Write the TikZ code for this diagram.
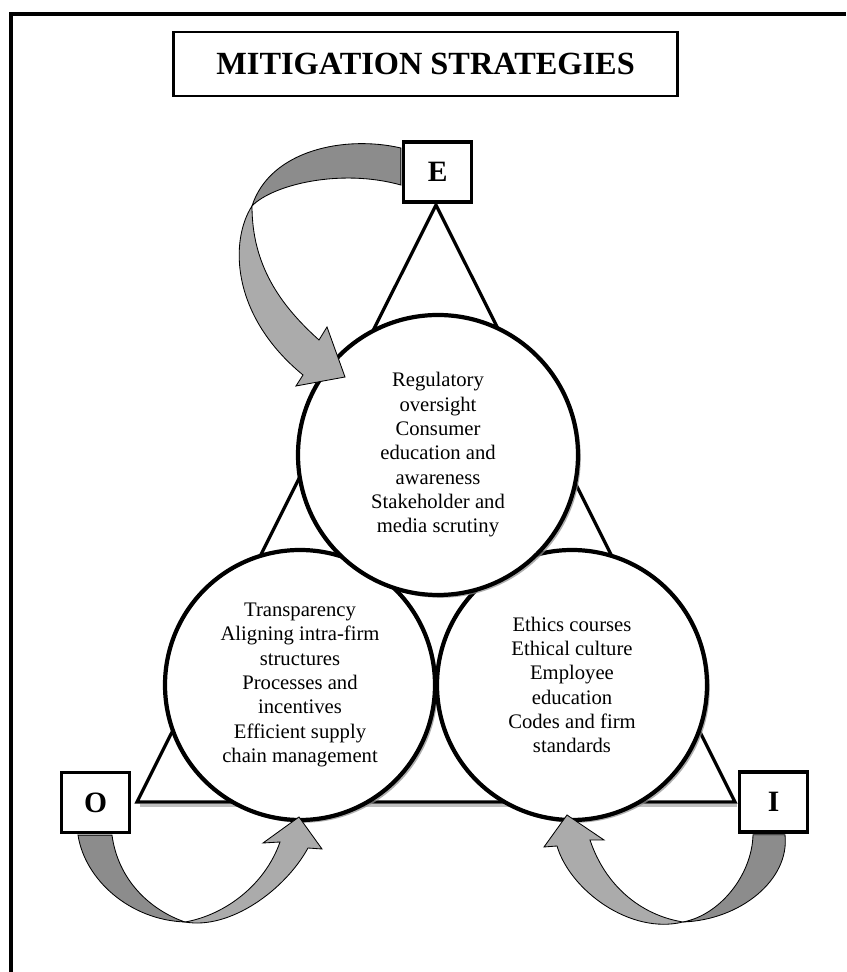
\documentclass[tikz,border=0pt]{standalone}
\usepackage{fontspec}
\setmainfont{Liberation Serif}
\usetikzlibrary{shadows,calc}

\definecolor{ribbondark}{gray}{0.55}
\definecolor{ribbonlight}{gray}{0.67}

\begin{document}
\begin{tikzpicture}[
  banner/.style={draw, line width=2.1pt, minimum width=12.6cm, minimum height=1.6cm,
                 font=\fontsize{23}{27}\selectfont\bfseries},
  lbox/.style={draw, line width=2.2pt, fill=white, minimum width=1.7cm, minimum height=1.5cm,
               inner sep=0pt, font=\fontsize{21}{25}\selectfont\bfseries},
  bubble/.style={circle, draw, line width=3pt, fill=white, inner sep=0pt, align=center,
                 font=\fontsize{14.7}{17.3}\selectfont,
                 drop shadow={shadow xshift=0.07cm, shadow yshift=-0.07cm, fill=black!45, opacity=0.7}},
  tri/.style={line width=2.3pt, line join=miter},
  edgeline/.style={line width=2.7pt},
  ribbonback/.style={draw=black, line width=0.6pt, fill=ribbondark},
  ribbonfront/.style={draw=black, line width=0.6pt, fill=ribbonlight},
]
\useasboundingbox (0,0) rectangle (21.15,24.3);

% --- Page frame (top and left only) ---
\draw[edgeline] (0.275,0) -- (0.275,23.95) -- (21.15,23.95);

% --- Title ---
\node[banner] (head) at (10.64,22.7) {MITIGATION STRATEGIES};

% --- Triangle E / O / I ---
\coordinate (apex) at (10.9,19.175);
\coordinate (lcorner) at (3.425,4.25);
\coordinate (rcorner) at (18.375,4.25);
\draw[tri, black!25] ($(lcorner)+(0.08,-0.08)$) -- ($(rcorner)+(0.06,-0.08)$);
\draw[tri] (apex) -- (lcorner) -- (rcorner) -- cycle;

% --- Strategy circles ---
\node[bubble, minimum size=6.75cm] (org) at (7.5,7.175)
  {Transparency\\Aligning intra-firm\\structures\\Processes and\\incentives\\Efficient supply\\chain management};
\node[bubble, minimum size=6.75cm] (ind) at (14.3,7.175)
  {Ethics courses\\Ethical culture\\Employee\\education\\Codes and firm\\standards};
\node[bubble, minimum size=7cm] (ext) at (10.95,12.925)
  {Regulatory\\oversight\\Consumer\\education and\\awareness\\Stakeholder and\\media scrutiny};

% --- Corner labels ---
\node[lbox] (ebox) at (10.94,20.0) {E};
\node[lbox] (obox) at (2.39,4.24) {O};
\node[lbox] (ibox) at (19.34,4.25) {I};

% --- Curved ribbon arrows ---
% E -> external circle
\draw[ribbonback] ($(ebox.west)+(-0.03,0.6)$) .. controls (8.625,20.925) and (6.75,20.55) .. (6.3,19.15)
  .. controls (6.8,19.675) and (8.5,20.1) .. ($(ebox.west)+(-0.03,-0.325)$) -- cycle;
\draw[ribbonfront] (6.3,19.15) .. controls (5.75,18.3) and (5.75,16.425) .. (7.575,14.925)
  -- (7.4,14.65) -- (8.625,14.875) -- (8.175,16.125) -- (7.975,15.8)
  .. controls (7.0,16.675) and (6.3,17.675) .. (6.3,19.15) -- cycle;

% O -> organisational circle
\draw[ribbonback] ($(obox.south)+(-0.44,-0.03)$) .. controls (2.125,2.3) and (3.25,1.3) .. (4.625,1.25)
  .. controls (3.75,1.55) and (2.95,2.3) .. ($(obox.south)+(0.41,-0.03)$) -- cycle;
\draw[ribbonfront] (4.625,1.25) .. controls (5.75,1.05) and (7.125,2.05) .. (7.7,3.1)
  -- (8.05,3.075) -- (7.475,3.875) -- (6.575,3.225) -- (7.0,3.25)
  .. controls (6.625,2.175) and (5.625,1.425) .. (4.625,1.25) -- cycle;

% I -> individual circle
\draw[ribbonback] ($(ibox.south)+(0.285,-0.03)$) .. controls (19.75,2.3) and (18.5,1.3) .. (17.075,1.25)
  .. controls (18.0,1.425) and (18.8,2.425) .. ($(ibox.south)+(-0.515,-0.03)$) -- cycle;
\draw[ribbonfront] (17.075,1.25) .. controls (15.75,0.925) and (14.25,2.05) .. (13.925,3.15)
  -- (13.6,3.125) -- (14.175,3.925) -- (15.1,3.3) -- (14.75,3.3)
  .. controls (15.125,2.175) and (16.0,1.425) .. (17.075,1.25) -- cycle;

\end{tikzpicture}
\end{document}
